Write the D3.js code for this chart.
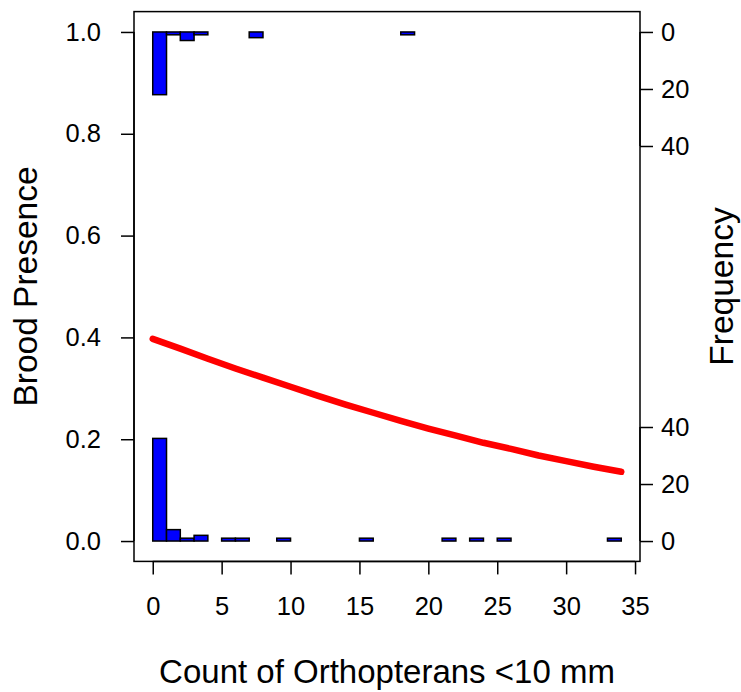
<!DOCTYPE html>
<html>
<head>
<meta charset="utf-8">
<script src="https://cdn.jsdelivr.net/npm/d3@7"></script>
<style>
  body { margin: 0; background: #fff; }
  text { font-family: "Liberation Sans", Arial, sans-serif; fill: #000; }
</style>
</head>
<body>
<div id="chart"></div>
<script>
// values
var xTicks = [0, 5, 10, 15, 20, 25, 30, 35];
var yTicks = [0, 0.2, 0.4, 0.6, 0.8, 1.0];
var freqTicks = [0, 20, 40];

// brood present (drawn hanging from 1.0)
var presentBinStart = [0, 1, 2, 3, 7, 18];
var presentCounts = [22, 1, 3, 1, 2, 1];

// brood absent (drawn standing on 0.0)
var absentBinStart = [0, 1, 2, 3, 5, 6, 9, 15, 21, 23, 25, 33];
var absentCounts = [36, 4, 1, 2, 1, 1, 1, 1, 1, 1, 1, 1];
var binWidth = 1;

// fitted logistic curve
var fitX = [0, 2, 4, 6, 8, 10, 12, 14, 16, 18, 20, 22, 24, 26, 28, 30, 32, 34];
var fitP = [0.397, 0.378, 0.358, 0.339, 0.321, 0.303, 0.285, 0.268, 0.252,
            0.236, 0.221, 0.207, 0.193, 0.181, 0.168, 0.157, 0.146, 0.136];

(function() {
  var width = 741,
      height = 692,
      margin = {top: 11.6, right: 101, bottom: 130.6, left: 134};

  var svg = d3.select("#chart").append("svg")
      .attr("width", width)
      .attr("height", height);

  var x = d3.scaleLinear()
      .domain([-1.36, 35.36])
      .range([margin.left, width - margin.right]);

  var y = d3.scaleLinear()
      .domain([-0.04, 1.04])
      .range([height - margin.bottom, margin.top]);

  // frequency -> pixel offset (40 counts span about 0.224 of the probability axis)
  var fpx = d3.scaleLinear()
      .domain([0, 40])
      .range([0, y(0) - y(0.224)]);

  // bottom histogram
  svg.append("g").selectAll("rect")
      .data(absentBinStart)
    .enter().append("rect")
      .attr("x", function(d) { return x(d); })
      .attr("width", function(d) { return x(d + binWidth) - x(d); })
      .attr("y", function(d, i) { return y(0) - fpx(absentCounts[i]); })
      .attr("height", function(d, i) { return fpx(absentCounts[i]); })
      .attr("fill", "#0000ff")
      .attr("stroke", "#000")
      .attr("stroke-width", 1.5);

  // top histogram
  svg.append("g").selectAll("rect")
      .data(presentBinStart)
    .enter().append("rect")
      .attr("x", function(d) { return x(d); })
      .attr("width", function(d) { return x(d + binWidth) - x(d); })
      .attr("y", y(1))
      .attr("height", function(d, i) { return fpx(presentCounts[i]); })
      .attr("fill", "#0000ff")
      .attr("stroke", "#000")
      .attr("stroke-width", 1.5);

  // fitted curve
  var line = d3.line()
      .x(function(d, i) { return x(d); })
      .y(function(d, i) { return y(fitP[i]); });

  svg.append("path")
      .datum(fitX)
      .attr("d", line)
      .attr("fill", "none")
      .attr("stroke", "#ff0000")
      .attr("stroke-width", 6.5)
      .attr("stroke-linecap", "round")
      .attr("stroke-linejoin", "round");

  // box
  svg.append("rect")
      .attr("x", margin.left)
      .attr("y", margin.top)
      .attr("width", width - margin.left - margin.right)
      .attr("height", height - margin.top - margin.bottom)
      .attr("fill", "none")
      .attr("stroke", "#000")
      .attr("stroke-width", 1.5);

  // x axis
  var xAxis = svg.append("g")
      .attr("transform", "translate(0," + (height - margin.bottom) + ")")
      .call(d3.axisBottom(x).tickValues(xTicks).tickSize(13).tickPadding(23)
        .tickFormat(d3.format("d")));
  xAxis.select(".domain")
      .attr("d", "M" + x(0) + ",0H" + x(35));

  // left axis
  var yAxis = svg.append("g")
      .attr("transform", "translate(" + margin.left + ",0)")
      .call(d3.axisLeft(y).tickValues(yTicks).tickSize(13).tickPadding(20)
        .tickFormat(d3.format(".1f")));
  yAxis.select(".domain")
      .attr("d", "M0," + y(0) + "V" + y(1));

  // right axis: top histogram counts and bottom histogram counts
  var fTop = d3.scaleLinear().domain([0, 40]).range([y(1), y(1) + fpx(40)]);
  var fBot = d3.scaleLinear().domain([0, 40]).range([y(0), y(0) - fpx(40)]);

  [fTop, fBot].forEach(function(s) {
    var g = svg.append("g")
        .attr("transform", "translate(" + (width - margin.right) + ",0)")
        .call(d3.axisRight(s).tickValues(freqTicks).tickSize(13).tickPadding(8)
          .tickFormat(d3.format("d")));
    g.select(".domain")
        .attr("d", "M0," + s(0) + "V" + s(40));
  });

  svg.selectAll(".tick line, .domain")
      .attr("stroke", "#000")
      .attr("stroke-width", 1.5);
  svg.selectAll(".tick text")
      .style("font-size", "25.5px")
      .style("font-family", "'Liberation Sans', Arial, sans-serif");

  // titles
  svg.append("text")
      .attr("x", x(17))
      .attr("y", 683)
      .attr("text-anchor", "middle")
      .style("font-size", "33px")
      .text("Count of Orthopterans <10 mm");

  svg.append("text")
      .attr("transform", "translate(37," + y(0.5) + ") rotate(-90)")
      .attr("text-anchor", "middle")
      .style("font-size", "33.5px")
      .text("Brood Presence");

  svg.append("text")
      .attr("transform", "translate(733," + y(0.5) + ") rotate(-90)")
      .attr("text-anchor", "middle")
      .style("font-size", "33.5px")
      .text("Frequency");
})();
</script>
</body>
</html>
